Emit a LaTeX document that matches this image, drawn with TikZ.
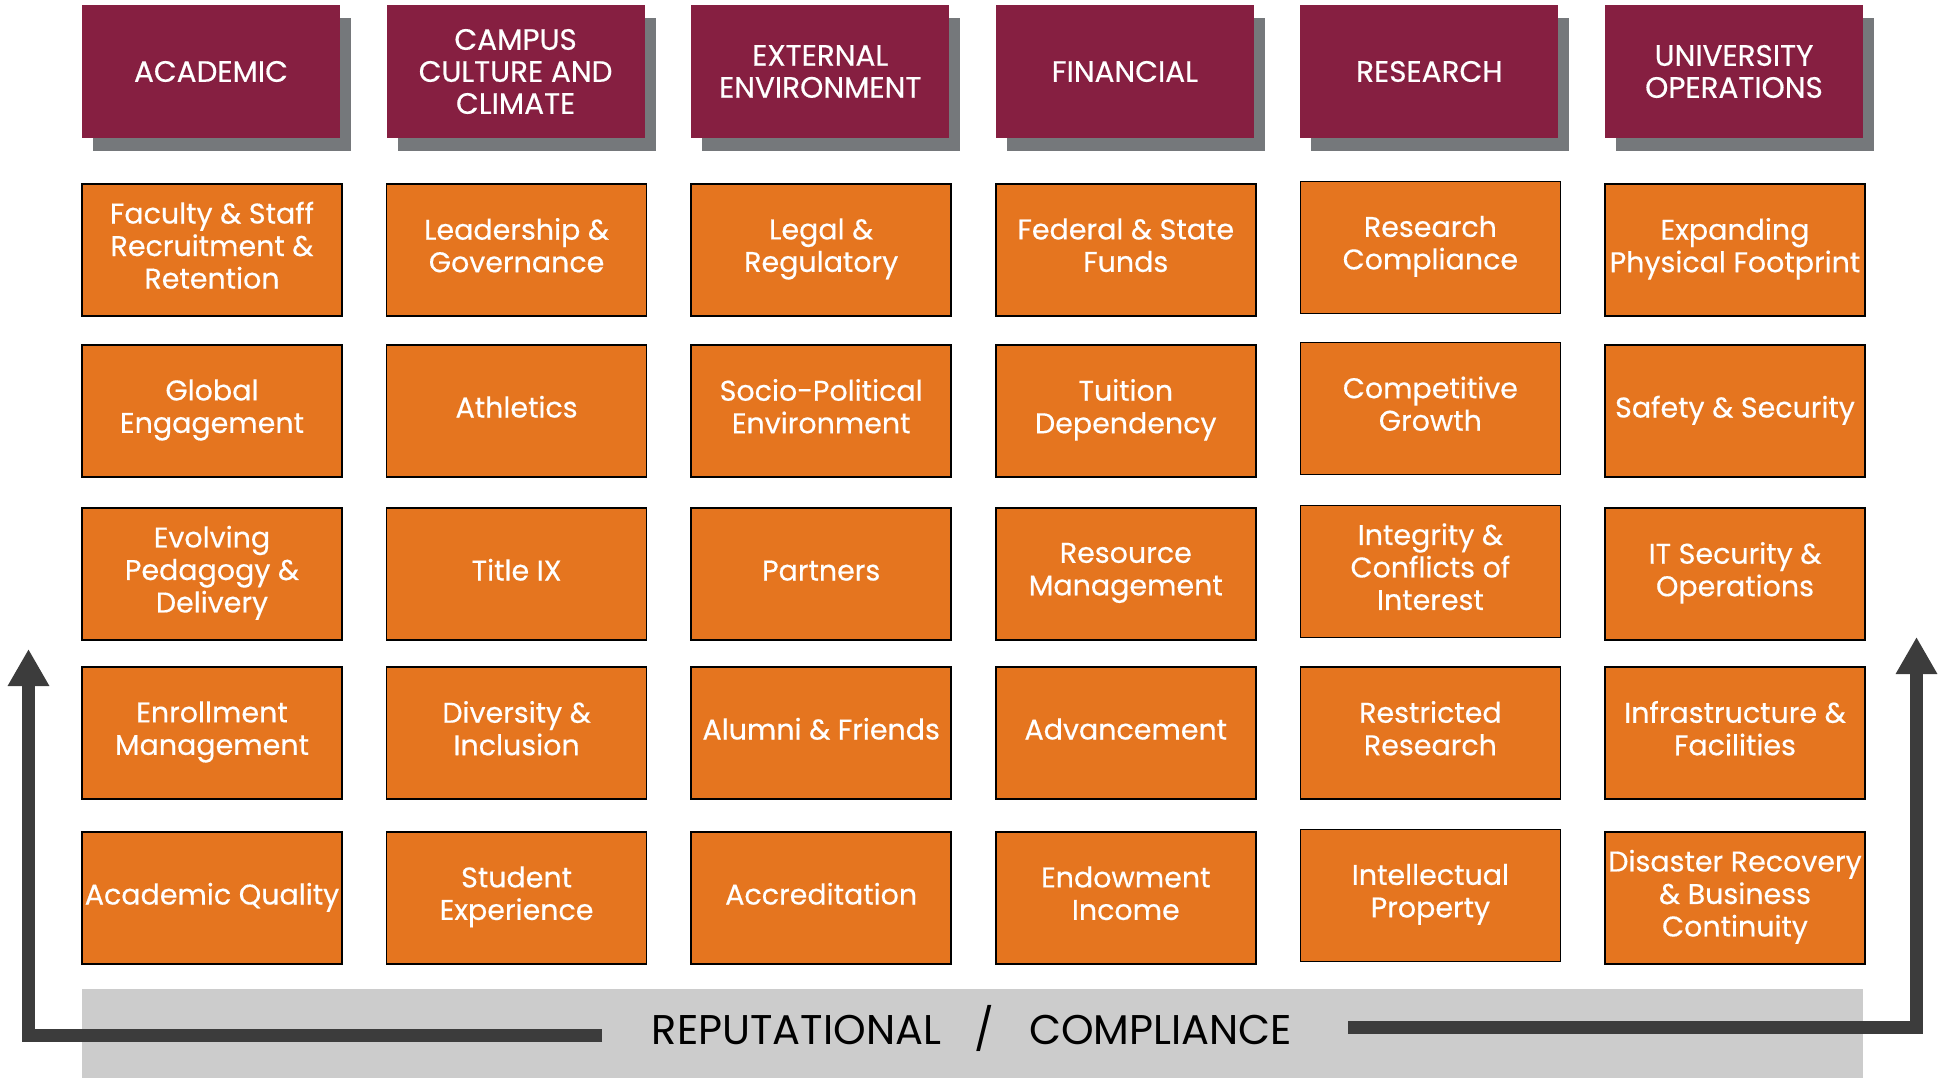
\documentclass[tikz,border=0pt]{standalone}
\usepackage{fontspec}
\setmainfont{Poppins}
\newfontfamily\medfont{Poppins}[FakeBold=0.45]
\usetikzlibrary{shadows,arrows.meta}
\definecolor{vtmaroon}{HTML}{861F41}
\definecolor{vtorange}{HTML}{E5751F}
\definecolor{shadowgray}{HTML}{75787B}
\definecolor{bandgray}{HTML}{CCCCCC}
\definecolor{arrowgray}{HTML}{3C3C3C}
\tikzset{
 hdr/.style={fill=vtmaroon, text=white, minimum width=258pt, minimum height=133pt, inner sep=0pt, align=center,
   font=\medfont\fontsize{29.5}{32}\selectfont,
   drop shadow={shadow xshift=11pt, shadow yshift=-13pt, fill=shadowgray, opacity=1}},
 risk/.style={fill=vtorange, draw=black, line width=1.5pt, text=white, minimum width=260pt, minimum height=132pt,
   inner sep=0pt, align=center, font=\medfont\fontsize{28.5}{32.5}\selectfont,
   execute at begin node=\strut, execute at end node=\strut},
 band/.style={fill=bandgray, minimum width=1781pt, minimum height=89pt, inner sep=0pt},
 flow/.style={draw=arrowgray, line width=13pt, line join=miter, -{Triangle[length=37pt,width=39pt]}}
}
\begin{document}
\begin{tikzpicture}[x={(1pt,0)}, y={(0,-1pt)}]
\useasboundingbox (0,0) rectangle (1939,1078);
% headers
\node[hdr] (h1) at (211,71.5) {ACADEMIC};
\node[hdr] (h2) at (515.6,71.5) {CAMPUS\\CULTURE AND\\CLIMATE};
\node[hdr] (h3) at (820.2,71.5) {EXTERNAL\\ENVIRONMENT};
\node[hdr] (h4) at (1124.8,71.5) {FINANCIAL};
\node[hdr] (h5) at (1429.4,71.5) {RESEARCH};
\node[hdr] (h6) at (1734,71.5) {UNIVERSITY\\OPERATIONS};
% column 1
\node[risk] (a1) at (212,250) {Faculty \& Staff\\Recruitment \&\\Retention};
\node[risk] (a2) at (212,411) {Global\\Engagement};
\node[risk] (a3) at (212,574) {Evolving\\Pedagogy \&\\Delivery};
\node[risk] (a4) at (212,733) {Enrollment\\Management};
\node[risk] (a5) at (212,898) {Academic Quality};
% column 2
\node[risk] (b1) at (516.6,250) {Leadership \&\\Governance};
\node[risk] (b2) at (516.6,411) {Athletics};
\node[risk] (b3) at (516.6,574) {Title IX};
\node[risk] (b4) at (516.6,733) {Diversity \&\\Inclusion};
\node[risk] (b5) at (516.6,898) {Student\\Experience};
% column 3
\node[risk] (c1) at (821.2,250) {Legal \&\\Regulatory};
\node[risk] (c2) at (821.2,411) {Socio-Political\\Environment};
\node[risk] (c3) at (821.2,574) {Partners};
\node[risk] (c4) at (821.2,733) {Alumni \& Friends};
\node[risk] (c5) at (821.2,898) {Accreditation};
% column 4
\node[risk] (d1) at (1125.8,250) {Federal \& State\\Funds};
\node[risk] (d2) at (1125.8,411) {Tuition\\Dependency};
\node[risk] (d3) at (1125.8,574) {Resource\\Management};
\node[risk] (d4) at (1125.8,733) {Advancement};
\node[risk] (d5) at (1125.8,898) {Endowment\\Income};
% column 5
\node[risk] (e1) at (1430.4,247.5) {Research\\Compliance};
\node[risk] (e2) at (1430.4,408.5) {Competitive\\Growth};
\node[risk] (e3) at (1430.4,571.5) {Integrity \&\\Conflicts of\\Interest};
\node[risk] (e4) at (1430.4,733) {Restricted\\Research};
\node[risk] (e5) at (1430.4,895.5) {Intellectual\\Property};
% column 6
\node[risk] (f1) at (1735,250) {Expanding\\Physical Footprint};
\node[risk] (f2) at (1735,411) {Safety \& Security};
\node[risk] (f3) at (1735,574) {IT Security \&\\Operations};
\node[risk] (f4) at (1735,733) {Infrastructure \&\\Facilities};
\node[risk] (f5) at (1735,898) {Disaster Recovery\\\& Business\\Continuity};
% band
\node[band] (band) at (972.5,1033.5) {};
\node[font=\fontsize{41.5}{44}\selectfont, text=black, inner sep=0pt] (bandtext) at (972,1028)
  {REPUTATIONAL\hspace{33pt}/\hspace{35pt}COMPLIANCE};
% arrows
\coordinate (lstart) at (602,1035.5);
\coordinate (lcorner) at (28.5,1035.5);
\coordinate (ltip) at (28.5,649);
\coordinate (rstart) at (1348,1027.5);
\coordinate (rcorner) at (1916.5,1027.5);
\coordinate (rtip) at (1916.5,637);
\draw[flow] (lstart) -- (lcorner) -- (ltip);
\draw[flow] (rstart) -- (rcorner) -- (rtip);
\end{tikzpicture}
\end{document}
